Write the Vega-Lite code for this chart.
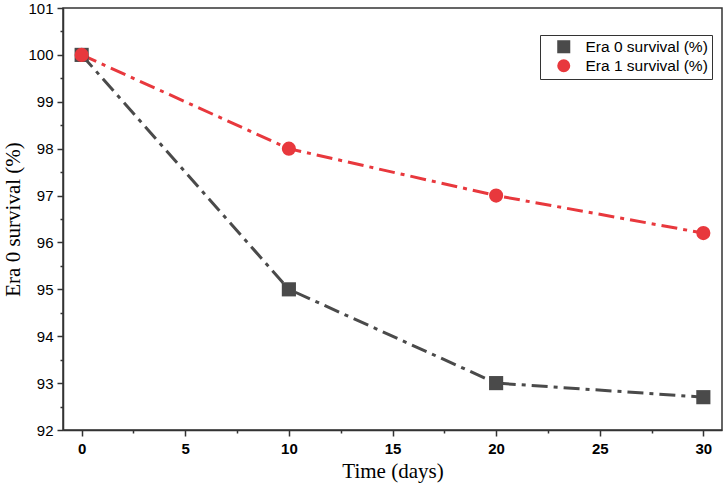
{
  "$schema": "https://vega.github.io/schema/vega-lite/v6.json",
  "width": 659,
  "height": 422,
  "autosize": {"type": "none"},
  "padding": {"left": 63, "top": 8, "right": 3, "bottom": 64},
  "background": "white",
  "config": {
    "view": {"stroke": "#333333", "strokeWidth": 1.5},
    "axis": {"domainColor": "#333333", "domainWidth": 1.5, "tickColor": "#333333", "tickWidth": 1.5, "labelColor": "black", "labelFont": "Liberation Sans", "labelFontSize": 15, "titleFont": "Liberation Serif", "titleFontSize": 21, "titleFontWeight": "normal", "titleColor": "black", "grid": false}
  },
  "data": {"values": [
    {"t": 0, "v": 100, "s": "Era 0 survival (%)"},
    {"t": 10, "v": 95, "s": "Era 0 survival (%)"},
    {"t": 20, "v": 93, "s": "Era 0 survival (%)"},
    {"t": 30, "v": 92.7, "s": "Era 0 survival (%)"},
    {"t": 0, "v": 100, "s": "Era 1 survival (%)"},
    {"t": 10, "v": 98, "s": "Era 1 survival (%)"},
    {"t": 20, "v": 97, "s": "Era 1 survival (%)"},
    {"t": 30, "v": 96.2, "s": "Era 1 survival (%)"}
  ]},
  "encoding": {
    "x": {"field": "t", "type": "quantitative", "title": "Time (days)",
      "scale": {"domain": [-0.9, 30.9], "nice": false, "zero": false},
      "axis": {"values": [0, 2.5, 5, 7.5, 10, 12.5, 15, 17.5, 20, 22.5, 25, 27.5, 30],
        "labelExpr": "datum.value % 5 === 0 ? format(datum.value, 'd') : ''", "labelFontWeight": "bold",
        "tickSize": {"condition": {"test": "datum.value % 5 === 0", "value": 6}, "value": 3},
        "labelPadding": 5, "titleY": 41, "titleBaseline": "middle"}},
    "y": {"field": "v", "type": "quantitative", "title": "Era 0 survival (%)",
      "scale": {"domain": [92, 101], "nice": false, "zero": false},
      "axis": {"values": [92, 92.5, 93, 93.5, 94, 94.5, 95, 95.5, 96, 96.5, 97, 97.5, 98, 98.5, 99, 99.5, 100, 100.5, 101],
        "labelExpr": "datum.value % 1 === 0 ? format(datum.value, 'd') : ''",
        "tickSize": {"condition": {"test": "datum.value % 1 === 0", "value": 6}, "value": 3},
        "labelPadding": 4, "titleX": -40}},
    "color": {"field": "s", "type": "nominal", "title": null,
      "scale": {"domain": ["Era 0 survival (%)", "Era 1 survival (%)"], "range": ["#4a4a4a", "#e8383d"]}}
  },
  "layer": [
    {"mark": {"type": "line", "strokeWidth": 3, "strokeDash": [16, 6, 4, 6]}},
    {"mark": {"type": "point", "filled": true, "opacity": 1, "size": 200},
      "encoding": {
        "shape": {"field": "s", "type": "nominal", "title": null,
          "scale": {"domain": ["Era 0 survival (%)", "Era 1 survival (%)"], "range": ["square", "circle"]},
          "legend": {"orient": "none", "legendX": 477, "legendY": 27, "fillColor": "white", "strokeColor": "#333333", "padding": 4,
            "labelFont": "Liberation Sans", "labelFontSize": 15.5, "labelColor": "black", "symbolSize": 170, "rowPadding": 2, "symbolStrokeWidth": 0, "symbolOffset": 12, "labelOffset": 14}}
      }}
  ]
}
